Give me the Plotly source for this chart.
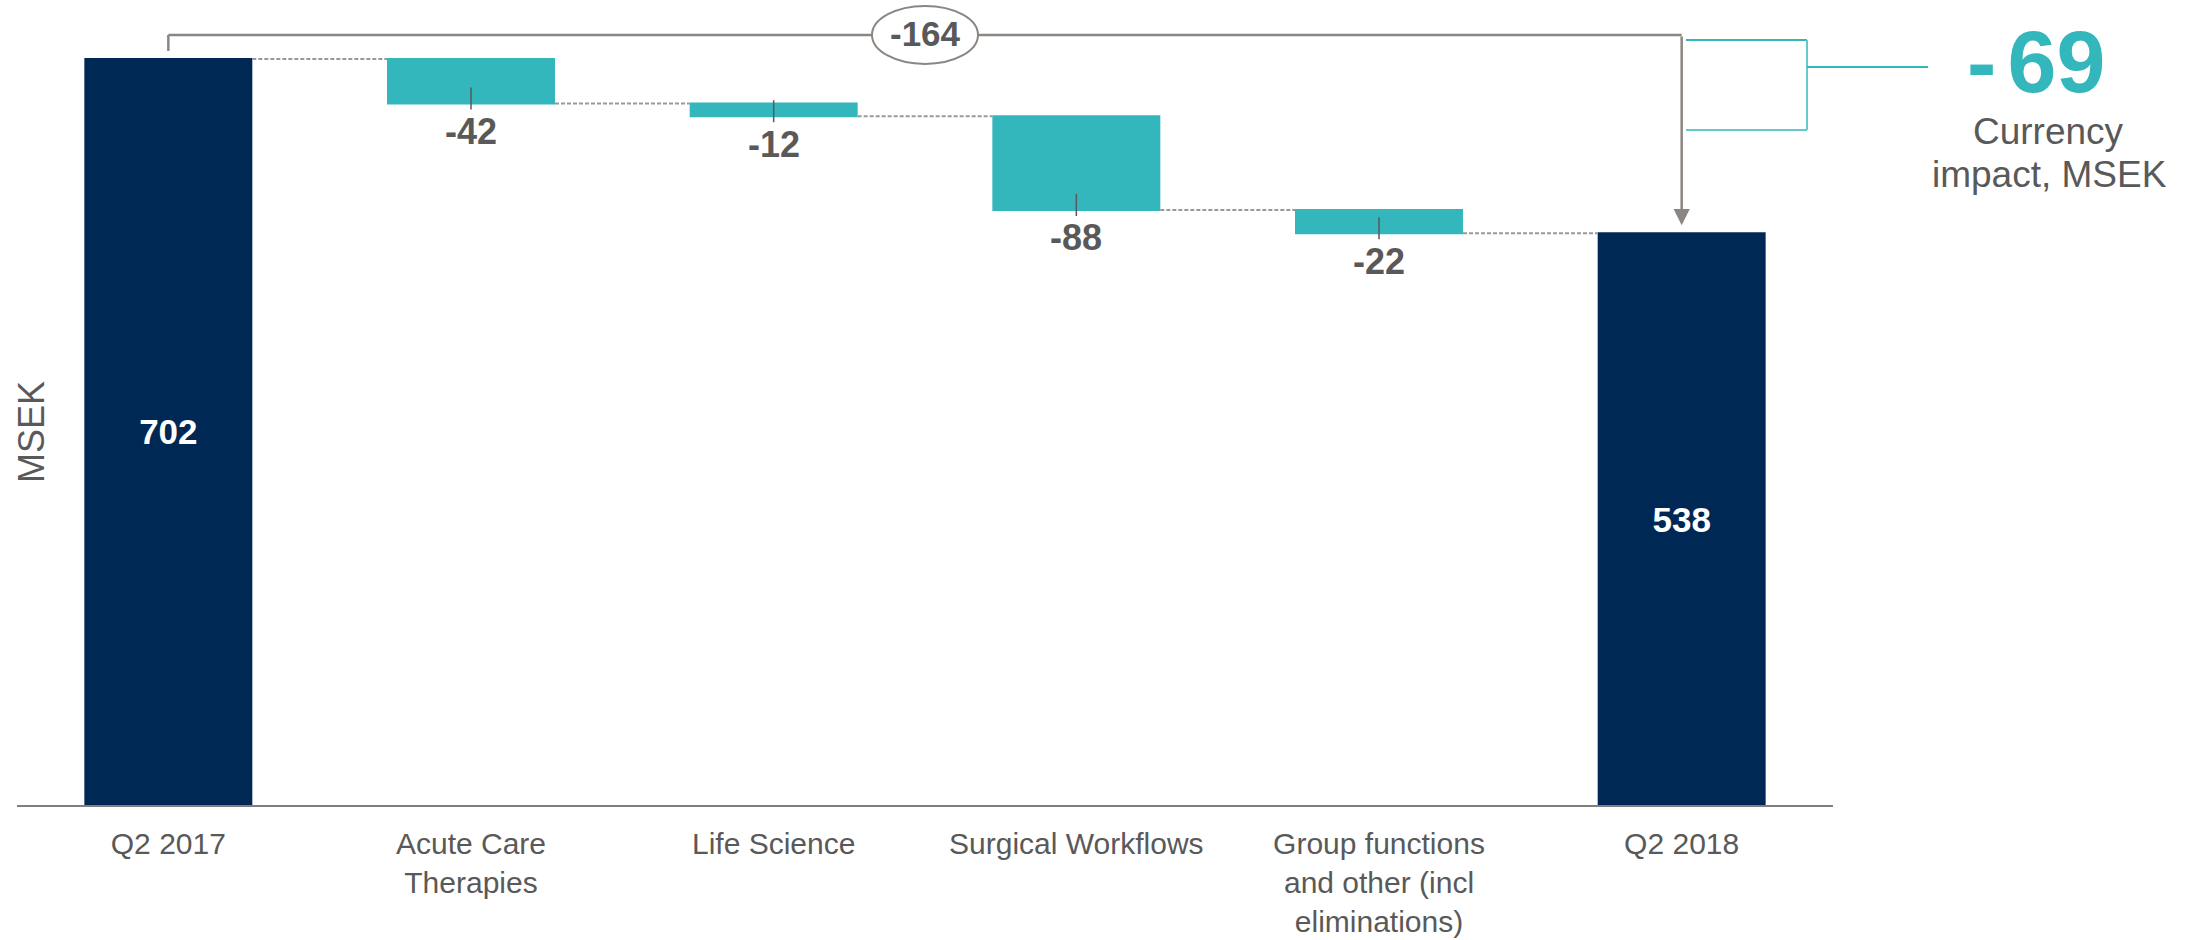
import plotly.graph_objects as go

# ---------------- data ----------------
categories = ["Q2 2017", "Acute Care<br>Therapies", "Life Science", "Surgical Workflows",
              "Group functions<br>and other (incl<br>eliminations)", "Q2 2018"]
measures = ["absolute", "relative", "relative", "relative", "relative", "total"]
start_value = 702
deltas = [-42, -12, -88, -22]
currency_impact = -69

end_value = start_value + sum(deltas)          # 538
total_change = end_value - start_value          # -164
values = [start_value] + deltas + [0]
x_pos = list(range(len(categories)))

# ---------------- style ----------------
NAVY = "#002855"
TEAL = "#33B7BC"
GREY_TXT = "#595959"
BRACKET = "#8C8682"
FONT = "Liberation Sans, Arial, sans-serif"

W, H = 2193, 940
ML, MR, MT, MB = 17, 360, 0, 135
PLOT_W = W - ML - MR
PLOT_H = H - MT - MB
YMAX = 757.5
PX_PER_UNIT = PLOT_H / YMAX


def u(px):  # pixel length -> data units (y)
    return px / PX_PER_UNIT


def paper_x(px):
    return (px - ML) / PLOT_W


def paper_y(py):
    return (H - MB - py) / PLOT_H


labels = [str(start_value)] + [""] * len(deltas) + [str(end_value)]
textpos = ["inside"] + ["none"] * len(deltas) + ["inside"]

fig = go.Figure(go.Waterfall(
    x=x_pos, y=values, measure=measures,
    text=labels, textposition=textpos, insidetextanchor="middle",
    textfont=dict(family=FONT, size=35, color="white", weight="bold"),
    decreasing=dict(marker=dict(color=TEAL)),
    increasing=dict(marker=dict(color=TEAL)),
    totals=dict(marker=dict(color=NAVY)),
    connector=dict(line=dict(color="#999999", width=2, dash="4px,2px")),
    hoverinfo="skip",
))

annotations = []
shapes = []

# labels under the decreasing bars with leader lines
running = start_value
for i, d in enumerate(deltas, start=1):
    running += d
    annotations.append(dict(
        x=i, y=running + u(16), xref="x", yref="y",
        text="<b>%d</b>" % d, showarrow=True, arrowhead=0, arrowwidth=1.5,
        arrowcolor=GREY_TXT, ax=0, ay=44,
        font=dict(family=FONT, size=36, color=GREY_TXT),
    ))

# grey bracket with total change
br_y = start_value + u(24)
shapes.append(dict(type="line", xref="x", yref="y", x0=0, x1=0,
                   y0=start_value + u(8), y1=br_y, line=dict(color=BRACKET, width=2.5)))
shapes.append(dict(type="line", xref="x", yref="y", x0=0, x1=len(categories) - 1,
                   y0=br_y, y1=br_y, line=dict(color=BRACKET, width=2.5)))
mid = (len(categories) - 1) / 2
hw = 53 / (PLOT_W / len(categories))
shapes.append(dict(type="circle", xref="x", yref="y", x0=mid - hw, x1=mid + hw,
                   y0=br_y - u(29), y1=br_y + u(29), fillcolor="white",
                   line=dict(color=BRACKET, width=2), layer="above"))
annotations.append(dict(x=mid, y=br_y + u(1), xref="x", yref="y", showarrow=False,
                        xanchor="center", yanchor="middle",
                        text="<b>%d</b>" % total_change,
                        font=dict(family=FONT, size=35, color=GREY_TXT)))
annotations.append(dict(x=len(categories) - 1, y=end_value + u(8), xref="x", yref="y",
                        ax=len(categories) - 1, ay=br_y, axref="x", ayref="y",
                        text="", showarrow=True, arrowhead=2, arrowsize=1.3,
                        arrowwidth=2.5, arrowcolor=BRACKET))

# teal currency bracket (outside plot area, paper coordinates)
tl = dict(color=TEAL, width=2)
tl2 = dict(color="#66C9CD", width=2)
shapes += [
    dict(type="line", xref="paper", yref="paper", x0=paper_x(1686), x1=paper_x(1807),
         y0=paper_y(40), y1=paper_y(40), line=tl),
    dict(type="line", xref="paper", yref="paper", x0=paper_x(1686), x1=paper_x(1807),
         y0=paper_y(130), y1=paper_y(130), line=tl2),
    dict(type="line", xref="paper", yref="paper", x0=paper_x(1807), x1=paper_x(1807),
         y0=paper_y(40), y1=paper_y(130), line=tl2),
    dict(type="line", xref="paper", yref="paper", x0=paper_x(1807), x1=paper_x(1928),
         y0=paper_y(67), y1=paper_y(67), line=tl),
]
annotations.append(dict(x=paper_x(2036), y=paper_y(62), xref="paper", yref="paper",
                        xanchor="center", yanchor="middle", showarrow=False,
                        text="<b>-<span style='font-size:40px'> </span>%d</b>" % abs(currency_impact),
                        font=dict(family=FONT, size=88, color=TEAL)))
annotations.append(dict(x=paper_x(2048), y=paper_y(131), xref="paper", yref="paper",
                        xanchor="center", yanchor="middle", showarrow=False, text="Currency",
                        font=dict(family=FONT, size=37, color=GREY_TXT)))
annotations.append(dict(x=paper_x(2049), y=paper_y(174), xref="paper", yref="paper",
                        xanchor="center", yanchor="middle", showarrow=False, text="impact, MSEK",
                        font=dict(family=FONT, size=37, color=GREY_TXT)))

# y axis title
annotations.append(dict(x=paper_x(32), y=paper_y(432), xref="paper", yref="paper",
                        xanchor="center", yanchor="middle",
                        showarrow=False, text="MSEK", textangle=-90,
                        font=dict(family=FONT, size=36, color=GREY_TXT)))

fig.update_layout(
    width=W, height=H,
    margin=dict(l=ML, r=MR, t=MT, b=MB, autoexpand=False),
    paper_bgcolor="white", plot_bgcolor="white",
    showlegend=False, waterfallgap=0.445,
    font=dict(family=FONT, color=GREY_TXT),
    shapes=shapes, annotations=annotations,
    xaxis=dict(range=[-0.5, len(categories) - 0.5], tickvals=x_pos, ticktext=categories,
               showgrid=False, zeroline=False, showline=True, linecolor="#7F7F7F",
               linewidth=2, ticks="", ticklabelstandoff=11, automargin=False,
               tickfont=dict(family=FONT, size=30, color=GREY_TXT)),
    yaxis=dict(range=[0, YMAX], showgrid=False, zeroline=False, showticklabels=False,
               showline=False, ticks="", automargin=False),
)

fig.write_html("out.html", config={"displayModeBar": False},
               post_script="document.body.style.margin='0';document.body.style.overflow='hidden';")
